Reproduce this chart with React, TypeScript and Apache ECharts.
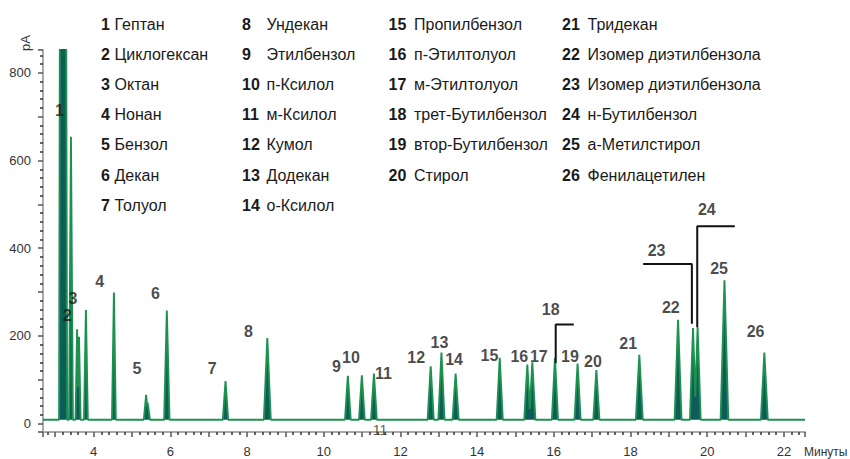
import React, { useEffect, useRef } from "react";
import * as echarts from "echarts";

// ---------- data ----------
const baselineLevel = 9; // pA
const xMin = 2.681;
const xMax = 22.55;
const yMin = -19;
const yMax = 852;

// retention time (min), apex height (pA), half base width (min)
const peakTimes = [3.17, 3.24, 3.41, 3.57, 3.62, 3.8, 4.53, 5.37, 5.41, 5.91, 7.44, 8.53, 10.63, 10.995, 11.31, 12.79, 13.07, 13.44, 14.59, 15.31, 15.44, 16.03, 16.62, 17.11, 18.23, 19.24, 19.63, 19.75, 20.45, 21.49];
const peakHeights = [3000, 2600, 654, 215, 198, 259, 299, 66, 48, 258, 97, 195, 109, 110, 114, 131, 162, 114, 150, 135, 140, 150, 137, 122, 157, 237, 218, 220, 327, 162];
const peakHalfWidths = [0.07, 0.07, 0.05, 0.04, 0.04, 0.05, 0.05, 0.06, 0.06, 0.07, 0.07, 0.09, 0.075, 0.075, 0.075, 0.08, 0.08, 0.08, 0.08, 0.08, 0.08, 0.08, 0.08, 0.08, 0.09, 0.09, 0.08, 0.08, 0.1, 0.09];

// peak number labels: text, time, value
const peakLabelTexts = ["1", "2", "3", "4", "5", "6", "7", "8", "9", "10", "11", "12", "13", "14", "15", "16", "17", "18", "19", "20", "21", "22", "23", "24", "25", "26"];
const peakLabelTimes = [3.11, 3.31, 3.46, 4.16, 5.13, 5.61, 7.09, 8.04, 10.33, 10.71, 11.56, 12.41, 13.02, 13.4, 14.32, 15.1, 15.61, 15.92, 16.42, 17.02, 17.94, 19.05, 18.68, 19.99, 20.31, 21.26];
const peakLabelValues = [715, 247, 285, 325, 125, 297, 125, 211, 131, 151, 115, 151, 186, 147, 156, 154, 154, 261, 154, 142, 183, 264, 395, 489, 354, 211];
const strayLabelTexts = ["11"];
const strayLabelTimes = [11.47];
const strayLabelValues = [-15];

// bracket leaders for 18, 23, 24
const bracket18 = [[16.05, 138], [16.05, 226], [16.52, 226]];
const bracket23 = [[18.33, 364], [19.6, 364], [19.6, 228]];
const bracket24 = [[19.74, 220], [19.74, 450], [20.72, 450]];

// compound legend
const compoundNumbers = ["1", "2", "3", "4", "5", "6", "7", "8", "9", "10", "11", "12", "13", "14", "15", "16", "17", "18", "19", "20", "21", "22", "23", "24", "25", "26"];
const compoundNames = [
  "Гептан", "Циклогексан", "Октан", "Нонан", "Бензол", "Декан", "Толуол",
  "Ундекан", "Этилбензол", "п-Ксилол", "м-Ксилол", "Кумол", "Додекан", "о-Ксилол",
  "Пропилбензол", "п-Этилтолуол", "м-Этилтолуол", "трет-Бутилбензол", "втор-Бутилбензол", "Стирол",
  "Тридекан", "Изомер диэтилбензола", "Изомер диэтилбензола", "н-Бутилбензол", "а-Метилстирол", "Фенилацетилен",
];
const legendColumnSizes = [7, 7, 6, 6];

// ---------- layout ----------
const NARROW = "'Liberation Sans Narrow', 'Liberation Sans', Arial, sans-serif";
const REGULAR = "'Liberation Sans', Arial, sans-serif";
const legendCols = [
  { numX: 101, nameX: 114.5 },
  { numX: 242, nameX: 266.5 },
  { numX: 388.5, nameX: 414 },
  { numX: 562, nameX: 587.5 },
];
const legendRowY = [24, 54, 84.5, 114.5, 144.5, 175, 205];

function buildTrace(): number[][] {
  const pts: number[][] = [[xMin, baselineLevel]];
  let prev: { t: number; h: number; w: number } | null = null;
  for (let i = 0; i < peakTimes.length; i++) {
    const t = peakTimes[i];
    const h = peakHeights[i];
    const w = peakHalfWidths[i];
    const b = baselineLevel;
    if (prev && t - w < prev.t + prev.w) {
      // overlapping peaks: meet where the flanks cross
      const s1 = (prev.h - b) / prev.w;
      const s2 = (h - b) / w;
      const tx = (prev.h + s1 * prev.t - b + s2 * (t - w)) / (s1 + s2);
      const vx = prev.h - s1 * (tx - prev.t);
      pts.pop();
      pts.push([tx, vx]);
    } else {
      pts.push([t - w, b]);
    }
    pts.push([t, h]);
    pts.push([t + w, b]);
    prev = { t, h, w };
  }
  pts.push([xMax, baselineLevel]);
  return pts;
}

export default function App() {
  const ref = useRef<HTMLDivElement>(null);
  useEffect(() => {
    if (!ref.current) return;
    const chart = echarts.init(ref.current, undefined, { renderer: "svg" });

    const graphics: any[] = [];
    let idx = 0;
    legendColumnSizes.forEach((n, c) => {
      for (let r = 0; r < n; r++) {
        graphics.push({
          type: "text",
          x: legendCols[c].numX,
          y: legendRowY[r],
          style: { text: compoundNumbers[idx], fontFamily: NARROW, fontWeight: "bold", fontSize: 16, fill: "#1a1a1a", align: "left", verticalAlign: "middle" },
        });
        graphics.push({
          type: "text",
          x: legendCols[c].nameX,
          y: legendRowY[r],
          style: { text: compoundNames[idx], fontFamily: REGULAR, fontSize: 16, fill: "#1a1a1a", align: "left", verticalAlign: "middle" },
        });
        idx++;
      }
    });
    graphics.push({
      type: "text",
      x: 25,
      y: 43,
      rotation: Math.PI / 2,
      style: { text: "pA", fontFamily: NARROW, fontSize: 13, fill: "#333", align: "center", verticalAlign: "middle" },
    });
    graphics.push({
      type: "text",
      x: 804,
      y: 452,
      style: { text: "Минуты", fontFamily: REGULAR, fontSize: 12, fill: "#333", align: "left", verticalAlign: "middle" },
    });

    const labelData = peakLabelTexts.map((txt, i) => [peakLabelTimes[i], peakLabelValues[i], txt]);
    const strayData = strayLabelTexts.map((txt, i) => [strayLabelTimes[i], strayLabelValues[i], txt]);

    const bracketSeries = [bracket18, bracket23, bracket24].map((d) => ({
      type: "line",
      data: d,
      symbol: "none",
      lineStyle: { color: "#111", width: 2 },
      z: 5,
      silent: true,
    }));

    chart.setOption({
      animation: false,
      backgroundColor: "#fff",
      grid: { left: 43, right: 45, top: 50, bottom: 27 },
      xAxis: {
        type: "value",
        min: xMin,
        max: xMax,
        splitNumber: 20,
        minInterval: 1,
        maxInterval: 1,
        axisLine: { onZero: false, lineStyle: { color: "#aaa", width: 2 } },
        axisTick: { show: true, length: 5, lineStyle: { color: "#555", width: 1.5 } },
        minorTick: { show: true, splitNumber: 5, length: 3, lineStyle: { color: "#333", width: 1.5 } },
        axisLabel: {
          color: "#333",
          fontFamily: NARROW,
          fontSize: 13,
          margin: 13,
          formatter: (v: number) => (Math.abs(v - Math.round(v)) < 1e-6 && Math.round(v) % 2 === 0 ? String(Math.round(v)) : ""),
        },
        splitLine: { show: false },
      },
      yAxis: {
        type: "value",
        min: yMin,
        max: yMax,
        splitNumber: 9,
        minInterval: 100,
        maxInterval: 100,
        axisLine: { show: true, onZero: false, lineStyle: { color: "#aaa", width: 2 } },
        axisTick: { show: true, length: 5, lineStyle: { color: "#555", width: 1.5 } },
        minorTick: { show: true, splitNumber: 5, length: 3, lineStyle: { color: "#333", width: 1.5 } },
        axisLabel: {
          color: "#333",
          fontFamily: NARROW,
          fontSize: 13,
          margin: 12,
          formatter: (v: number) => (v >= 0 && Math.abs(v % 200) < 1e-6 ? String(v) : ""),
        },
        splitLine: { show: false },
      },
      graphic: graphics,
      series: [
        {
          type: "line",
          data: buildTrace(),
          symbol: "none",
          lineStyle: { color: "#1e9150", width: 1.9 },
          areaStyle: { color: "#0d5c5a", opacity: 1, origin: baselineLevel },
          z: 2,
          silent: true,
        },
        {
          type: "scatter",
          data: labelData,
          symbolSize: 1,
          itemStyle: { color: "rgba(0,0,0,0)" },
          label: {
            show: true,
            position: "inside",
            formatter: (p: any) => p.data[2],
            fontFamily: NARROW,
            fontWeight: "bold",
            fontSize: 16,
            color: "#1a1a1a",
          },
          z: 6,
          silent: true,
        },
        {
          type: "scatter",
          data: strayData,
          symbolSize: 1,
          itemStyle: { color: "rgba(0,0,0,0)" },
          label: {
            show: true,
            position: "inside",
            formatter: (p: any) => p.data[2],
            fontFamily: NARROW,
            fontWeight: "normal",
            fontSize: 14,
            color: "#333333",
          },
          z: 6,
          silent: true,
        },
        ...bracketSeries,
      ],
    });
    return () => chart.dispose();
  }, []);
  return <div ref={ref} style={{ position: "fixed", left: 0, top: 0, width: 850, height: 459 }} />;
}
